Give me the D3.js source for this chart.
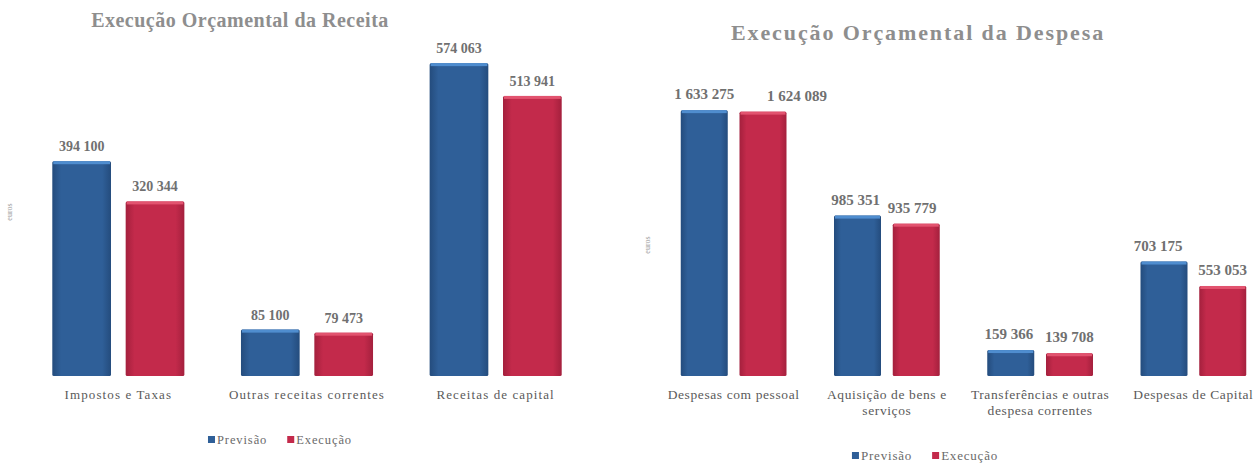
<!DOCTYPE html>
<html>
<head>
<meta charset="utf-8">
<script src="https://cdn.jsdelivr.net/npm/d3@7"></script>
<style>
  html, body { margin: 0; padding: 0; background: #ffffff; }
  svg { display: block; font-family: "Liberation Serif", "DejaVu Serif", serif; }
</style>
</head>
<body>
<svg id="chart" width="1259" height="463"></svg>
<script>
// ---------- DATA ----------
const seriesNames = ["Previsão", "Execução"];

const revTitle = "Execução Orçamental da Receita";
const revCategories = [["Impostos e Taxas"], ["Outras receitas correntes"], ["Receitas de capital"]];
const revPrevisao = [394100, 85100, 574063];
const revExecucao = [320344, 79473, 513941];

const despTitle = "Execução Orçamental da Despesa";
const despCategories = [["Despesas com pessoal"], ["Aquisição de bens e", "serviços"], ["Transferências e outras", "despesa correntes"], ["Despesas de Capital"]];
const despPrevisao = [1633275, 985351, 159366, 703175];
const despExecucao = [1624089, 935779, 139708, 553053];

const axisLabel = "euros";

// ---------- STYLE ----------
const colors = {
  "Previsão": { main: "#2f5f98", dark: "#244c7d", light: "#4f8dcf" },
  "Execução": { main: "#c32a4b", dark: "#a4203d", light: "#e2536f" }
};

const fmt = v => d3.format(",")(v).replace(/,/g, " ");

const svg = d3.select("#chart");
const defs = svg.append("defs");
seriesNames.forEach((s, i) => {
  const g = defs.append("linearGradient").attr("id", "grad" + i)
    .attr("x1", "0%").attr("x2", "100%").attr("y1", "0%").attr("y2", "0%");
  g.append("stop").attr("offset", "0%").attr("stop-color", colors[s].dark);
  g.append("stop").attr("offset", "15%").attr("stop-color", colors[s].main);
  g.append("stop").attr("offset", "85%").attr("stop-color", colors[s].main);
  g.append("stop").attr("offset", "100%").attr("stop-color", colors[s].dark);
});

function drawChart(cfg) {
  const g = svg.append("g");
  const cats = cfg.categories.map(c => c.join(" "));
  const x0 = d3.scaleBand().domain(cats).range(cfg.xRange)
    .paddingInner(cfg.padInner).paddingOuter(cfg.padOuter);
  const x1 = d3.scaleBand().domain(seriesNames).range([0, x0.bandwidth()]).paddingInner(0.2);
  const y = d3.scaleLinear().domain([0, cfg.yMax]).range([cfg.baseline, cfg.yTop]);

  const rows = cats.map((c, i) => ({
    cat: c,
    lines: cfg.categories[i],
    vals: [
      { s: seriesNames[0], v: cfg.prev[i], si: 0, ci: i },
      { s: seriesNames[1], v: cfg.exec[i], si: 1, ci: i }
    ]
  }));

  // title
  g.append("text")
    .attr("x", cfg.titleX).attr("y", cfg.titleY)
    .attr("text-anchor", "middle")
    .attr("font-size", cfg.titleSize).attr("font-weight", "bold")
    .attr("letter-spacing", cfg.titleSpacing)
    .attr("fill", "#8e8e8e")
    .text(cfg.title);

  // axis label
  g.append("text")
    .attr("transform", `translate(${cfg.axisLabelX},${cfg.axisLabelY}) rotate(-90)`)
    .attr("text-anchor", "middle")
    .attr("font-size", 8).attr("fill", "#9a9a9a")
    .text(axisLabel);

  const groups = g.selectAll(".grp").data(rows).enter().append("g")
    .attr("transform", d => `translate(${x0(d.cat)},0)`);

  // bars
  groups.selectAll("rect.bar").data(d => d.vals).enter().append("rect")
    .attr("class", "bar")
    .attr("x", d => x1(d.s)).attr("width", x1.bandwidth())
    .attr("y", d => y(d.v)).attr("height", d => y(0) - y(d.v))
    .attr("rx", 1.5)
    .attr("fill", d => `url(#grad${d.si})`);
  // top highlight
  groups.selectAll("rect.hl").data(d => d.vals).enter().append("rect")
    .attr("class", "hl")
    .attr("x", d => x1(d.s) + 1).attr("width", x1.bandwidth() - 2)
    .attr("y", d => y(d.v)).attr("height", 3)
    .attr("fill", d => colors[d.s].light);

  // value labels
  groups.selectAll("text.val").data(d => d.vals).enter().append("text")
    .attr("class", "val")
    .attr("x", d => x1(d.s) + x1.bandwidth() / 2 + (cfg.labelShift[d.ci][d.si] || 0))
    .attr("y", d => y(d.v) - cfg.valGap)
    .attr("text-anchor", "middle")
    .attr("font-size", cfg.valSize).attr("font-weight", "bold")
    .attr("letter-spacing", cfg.valSpacing)
    .attr("fill", "#707070")
    .text(d => fmt(d.v));

  // category labels
  groups.each(function(d) {
    const t = d3.select(this).append("text")
      .attr("text-anchor", "middle")
      .attr("font-size", cfg.catSize).attr("fill", "#5a5a5a")
      .attr("letter-spacing", cfg.catSpacing);
    d.lines.forEach((ln, k) => {
      t.append("tspan").attr("x", x0.bandwidth() / 2)
        .attr("y", cfg.catY + k * cfg.catLine).text(ln);
    });
  });

  // legend
  const lg = g.append("g");
  let lx = 0;
  const items = [];
  seriesNames.forEach((s, i) => {
    const it = lg.append("g");
    it.append("rect").attr("x", 0).attr("y", -8).attr("width", 7).attr("height", 7)
      .attr("fill", colors[s].main);
    const tx = it.append("text").attr("x", 9).attr("y", 0)
      .attr("font-size", cfg.legSize).attr("fill", "#6a6a6a")
      .attr("letter-spacing", cfg.legSpacing).text(s);
    items.push({ it, w: 9 + tx.node().getComputedTextLength() });
  });
  items.forEach((o, i) => {
    o.it.attr("transform", `translate(${lx},0)`);
    lx += o.w + (i < items.length - 1 ? 20 : 0);
  });
  lg.attr("transform", `translate(${cfg.legCX - lx / 2},${cfg.legY})`);
}

drawChart({
  title: revTitle, titleX: 240, titleY: 27, titleSize: 20, titleSpacing: 0.5,
  categories: revCategories, prev: revPrevisao, exec: revExecucao,
  xRange: [24, 590], padInner: 0.3, padOuter: 0.15,
  yMax: 600000, baseline: 376, yTop: 49,
  valGap: 10, valSize: 14, valSpacing: 0, catSize: 13, catSpacing: 1.1, catY: 399, catLine: 15,
  labelShift: [[0, 0], [0, 0], [0, 0]],
  legCX: 280, legY: 444, legSize: 12.5, legSpacing: 0.9,
  axisLabelX: 12, axisLabelY: 212
});

drawChart({
  title: despTitle, titleX: 918, titleY: 40, titleSize: 22, titleSpacing: 1.9,
  categories: despCategories, prev: despPrevisao, exec: despExecucao,
  xRange: [657, 1270], padInner: 0.31, padOuter: 0.155,
  yMax: 1800000, baseline: 376, yTop: 83,
  valGap: 11, valSize: 15, valSpacing: 0, catSize: 13.5, catSpacing: 0.6, catY: 399, catLine: 16,
  labelShift: [[0, 34], [-2, -4], [-2, 0], [-6, 0]],
  legCX: 925, legY: 460, legSize: 13, legSpacing: 0.8,
  axisLabelX: 650, axisLabelY: 245
});
</script>
</body>
</html>
